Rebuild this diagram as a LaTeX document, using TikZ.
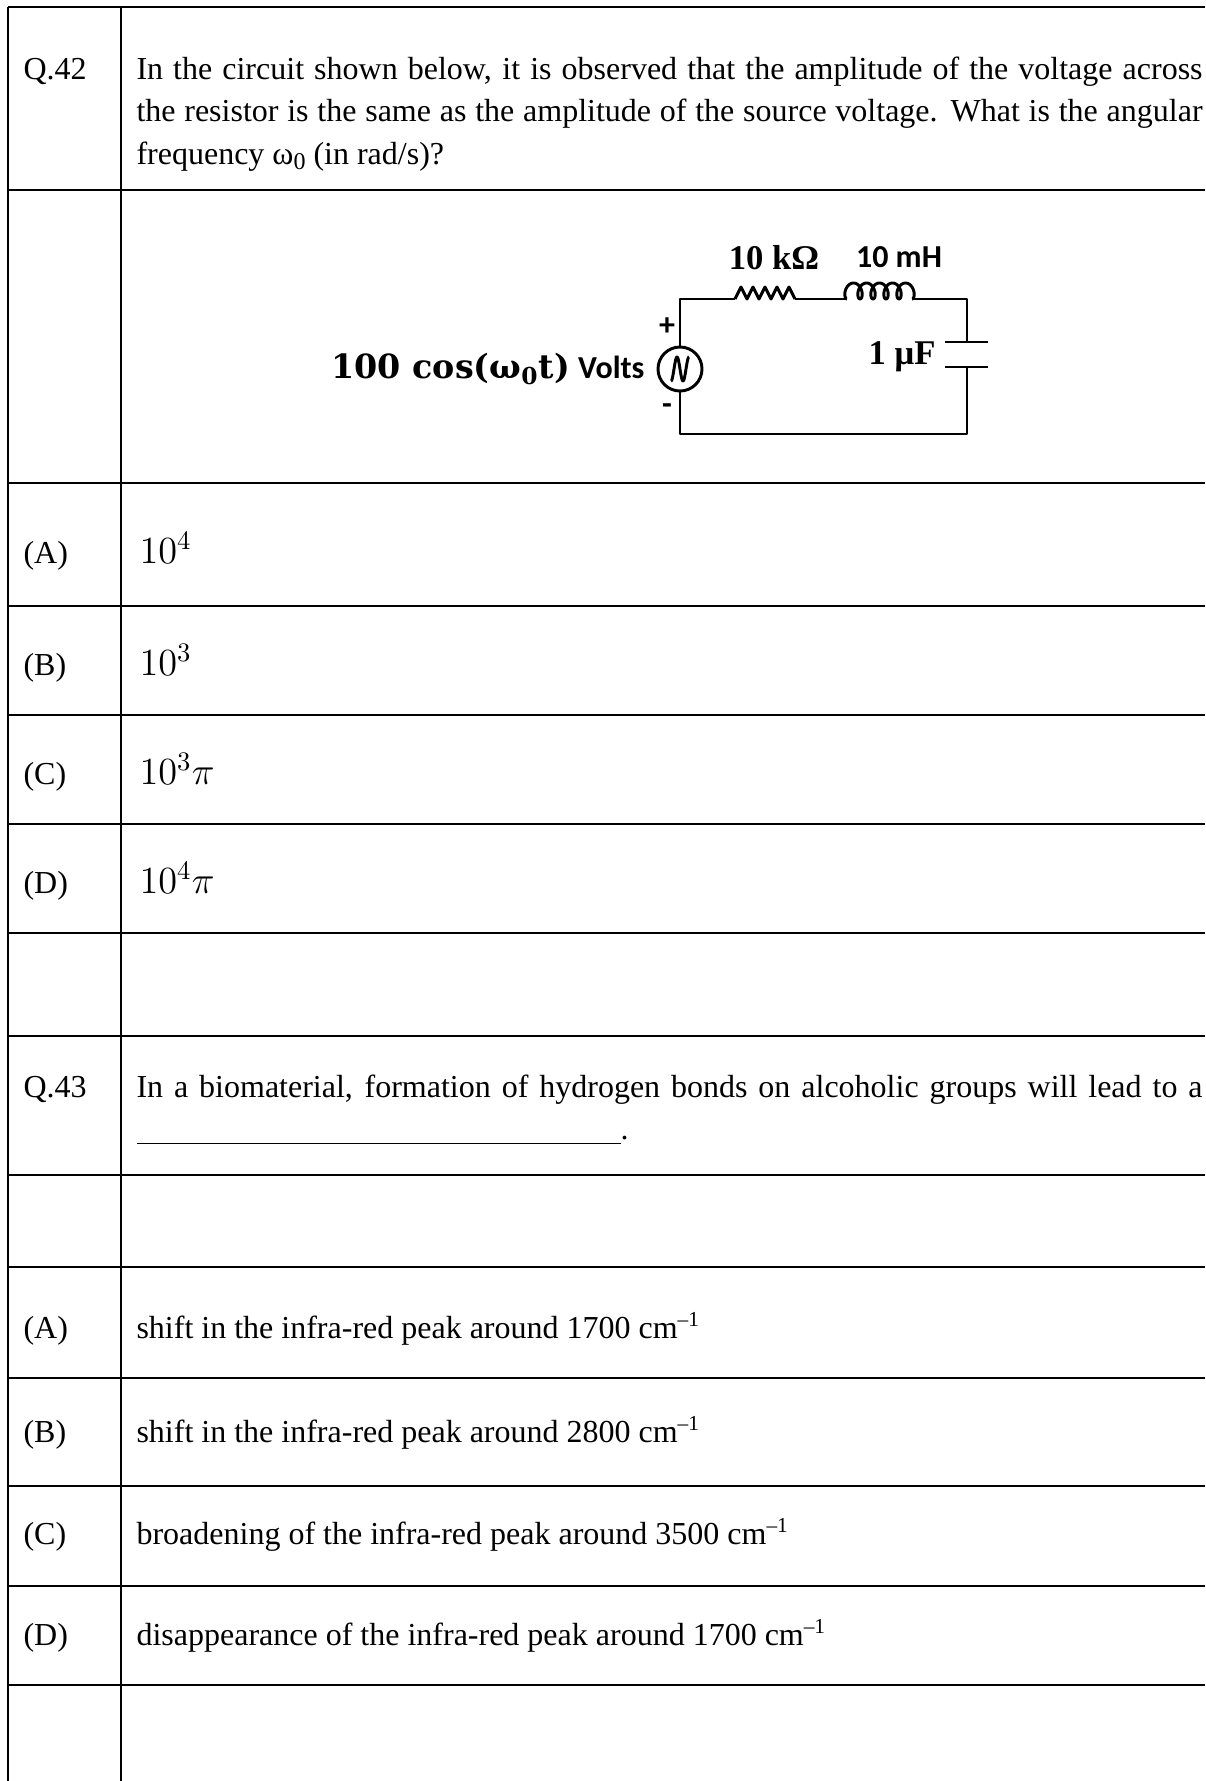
\documentclass[tikz,border=0pt]{standalone}
\usepackage{fontspec}
\setmainfont{Liberation Serif}
\newfontfamily\calibri{Carlito}
\newfontfamily\cambria{DejaVu Serif}
\begin{document}
\begin{tikzpicture}[x=0.375pt, y=-0.375pt,
    every node/.style={inner sep=0pt, font=\fontsize{12}{14}\selectfont},
    grid/.style={line width=1pt},
    wire/.style={line width=1.1pt, line join=round},
    lbl/.style={anchor=base west},
    ans/.style={anchor=base west, font=\fontsize{14}{16}\selectfont},
    cval/.style={font=\fontsize{13}{15}\selectfont\bfseries},
    sign/.style={font=\fontsize{12}{14}\selectfont\calibri\bfseries}]
  \useasboundingbox (0,0) rectangle (1205,1781);

  % table rules
  \foreach \y in {7,190,483,606,715,824,933,1036,1175,1267,1378,1486,1586,1685}
    \draw[grid] (8,\y) -- (1205,\y);
  \draw[grid] (8,7) -- (8,1781);
  \draw[grid] (121,7) -- (121,1781);

  % question 42
  \node[lbl] (q42) at (23,79) {Q.42};
  \node[lbl] (q42l1) at (136,79) {\makebox[399.75pt][s]{In the circuit shown below, it is observed that the amplitude of the voltage across}};
  \node[lbl] (q42l2) at (136,121) {\makebox[399.75pt][s]{the resistor is the same as the amplitude of the source voltage. What is the angular}};
  \node[lbl] (q42l3) at (136,164) {frequency ω\raisebox{-2pt}{\fontsize{9}{10}\selectfont 0} (in rad/s)?};

  % circuit
  \coordinate (tl) at (680,299);
  \coordinate (tr) at (967,299);
  \coordinate (bl) at (680,434);
  \coordinate (br) at (967,434);
  \coordinate (r1) at (735,299);
  \coordinate (r2) at (795,299);
  \coordinate (l1) at (847,299);
  \coordinate (l2) at (912,299);
  \coordinate (ct) at (967,342);
  \coordinate (cb) at (967,367);
  \node[circle, draw, wire, minimum size=16.5pt] (src) at (680,369) {};
  \draw[wire] plot[domain=-9:9, samples=60] ({680+\x}, {369-12*sin(30*\x+180)});

  \draw[wire] (src.north) -- (tl) -- (r1);
  \draw[wire] (r1) \foreach \k in {1,...,5} { -- ++(6,-12) -- ++(6,12) };
  \draw[wire] (r2) -- (l1);
  \draw[wire] plot[domain=0:5, samples=240] ({847+13*\x-5*sin(360*\x)}, {299-8*(1-cos(360*\x))});
  \draw[wire] (l2) -- (tr) -- (ct);
  \draw[wire] ([xshift=-8.25pt]ct) -- ([xshift=7.9pt]ct);
  \draw[wire] ([xshift=-8.25pt]cb) -- ([xshift=7.9pt]cb);
  \draw[wire] (cb) -- (br) -- (bl) -- (src.south);

  \node[cval] (rv) at (774,258) {10 kΩ};
  \node[font=\fontsize{12}{14}\selectfont\calibri\bfseries] (lv) at (899,257) {10 mH};
  \node[cval] (cv) at (902,357) {1 μF};
  \node[anchor=east] (vs) at (645,369) {{\fontsize{12.5}{15}\selectfont\cambria\bfseries 100 cos(ω\textsubscript{0}t)} {\calibri\bfseries Volts}};
  \node[sign] (plus) at (667,327) {+};
  \node[sign] (minus) at (667,409) {-};

  % options 42
  \node[lbl] (oa) at (23,563) {(A)};
  \node[lbl] (ob) at (23,675) {(B)};
  \node[lbl] (oc) at (23,784) {(C)};
  \node[lbl] (od) at (23,893) {(D)};
  \node[ans] (va) at (139,563) {$10^4$};
  \node[ans] (vb) at (139,675) {$10^3$};
  \node[ans] (vc) at (139,784) {$10^3\pi$};
  \node[ans] (vd) at (139,893) {$10^4\pi$};

  % question 43
  \node[lbl] (q43) at (23,1097) {Q.43};
  \node[lbl] (q43l1) at (136,1097) {\makebox[399.75pt][s]{In a biomaterial, formation of hydrogen bonds on alcoholic groups will lead to a}};
  \node[lbl] (q43l2) at (136,1139) {\rule[-2pt]{181.5pt}{0.5pt}.};

  % options 43
  \node[lbl] (pa) at (23,1338) {(A)};
  \node[lbl] (pb) at (23,1442) {(B)};
  \node[lbl] (pc) at (23,1544) {(C)};
  \node[lbl] (pd) at (23,1645) {(D)};
  \node[lbl] (wa) at (136,1338) {shift in the infra-red peak around 1700 cm\textsuperscript{–1}};
  \node[lbl] (wb) at (136,1442) {shift in the infra-red peak around 2800 cm\textsuperscript{–1}};
  \node[lbl] (wc) at (136,1544) {broadening of the infra-red peak around 3500 cm\textsuperscript{–1}};
  \node[lbl] (wd) at (136,1645) {disappearance of the infra-red peak around 1700 cm\textsuperscript{–1}};
\end{tikzpicture}
\end{document}
